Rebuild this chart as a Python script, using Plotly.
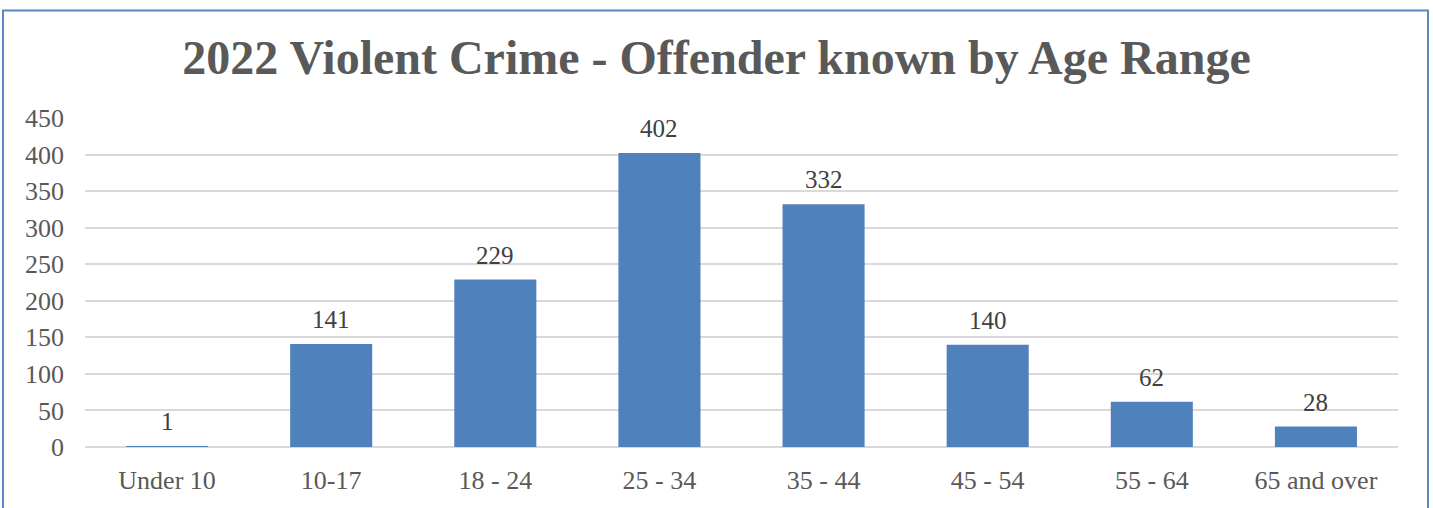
import plotly.graph_objects as go

categories = ["Under 10", "10-17", "18 - 24", "25 - 34", "35 - 44", "45 - 54", "55 - 64", "65 and over"]
values = [1, 141, 229, 402, 332, 140, 62, 28]
y_ticks = [0, 50, 100, 150, 200, 250, 300, 350, 400, 450]

W, H = 1433, 508
L, R, T, B = 85, 35, 118, 61
pw, ph = W - L - R, H - T - B
FONT = "Liberation Serif, Times New Roman, serif"

fig = go.Figure(go.Bar(
    x=categories, y=values, marker_color="#4F81BD", marker_line_width=0,
    hoverinfo="x+y",
))

for c, v in zip(categories, values):
    fig.add_annotation(x=c, y=v, text=str(v), showarrow=False, yanchor="bottom", yshift=9,
                       font=dict(family=FONT, size=25, color="#404040"))

def px_x(p):
    return (p - L) / pw

def px_y(p):
    return (H - B - p) / ph

fig.add_shape(type="rect", xref="paper", yref="paper",
              x0=px_x(3), x1=px_x(1428), y0=px_y(515), y1=px_y(10.5),
              line=dict(color="#5B86BE", width=2), fillcolor="rgba(0,0,0,0)", layer="below")

fig.update_layout(
    width=W, height=H,
    margin=dict(l=L, r=R, t=T, b=B, autoexpand=False),
    paper_bgcolor="white", plot_bgcolor="white",
    bargap=0.5,
    showlegend=False,
    title=dict(text="<b>2022 Violent Crime - Offender known by Age Range</b>",
               x=0.5, xanchor="center", xref="container",
               y=1 - 57 / H, yanchor="middle", yref="container",
               font=dict(family=FONT, size=48, color="#595959")),
    font=dict(family=FONT, size=26, color="#595959"),
)
fig.update_xaxes(showgrid=False, showline=False, ticks="", ticklabelstandoff=15, automargin=False,
                 tickfont=dict(family=FONT, size=26, color="#595959"))
fig.update_yaxes(range=[0, 450], tickvals=y_ticks, showgrid=True, gridcolor="#D9D9D9", gridwidth=1.5,
                 zeroline=True, zerolinecolor="#D9D9D9", zerolinewidth=1.5, automargin=False,
                 showline=False, ticks="", ticklabelstandoff=20,
                 tickfont=dict(family=FONT, size=26, color="#595959"))

fig.write_html("out.html", config={"displayModeBar": False},
               post_script="document.body.style.margin='0';")
